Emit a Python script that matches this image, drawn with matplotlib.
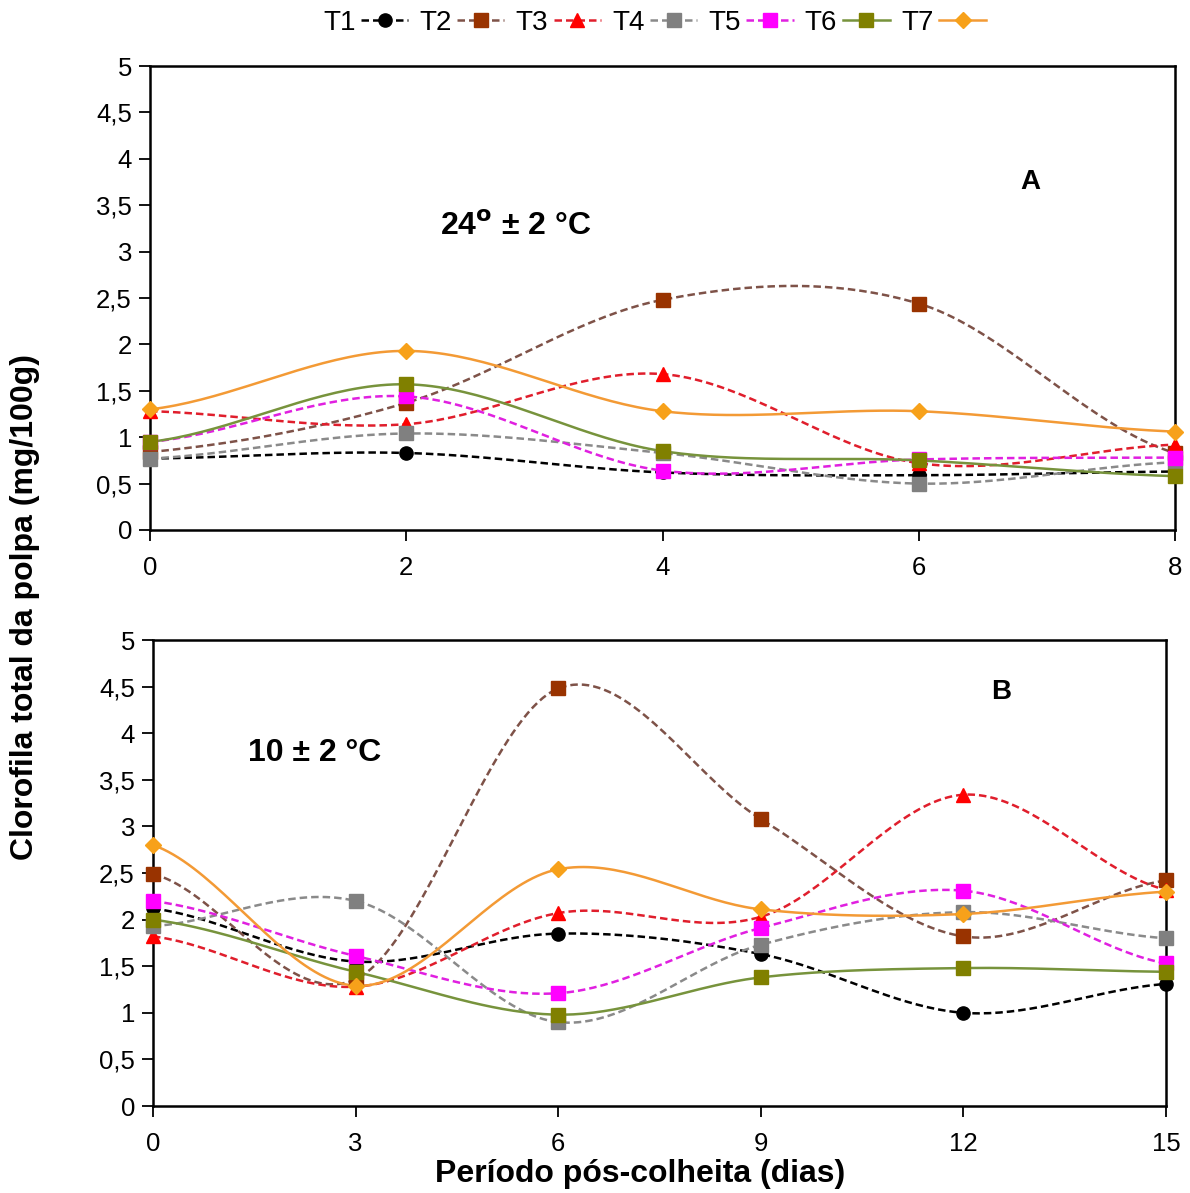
import numpy as np
import matplotlib
matplotlib.use("Agg")
import matplotlib.pyplot as plt
from matplotlib.lines import Line2D

plt.rcParams['font.family'] = ['Liberation Sans', 'DejaVu Sans']

# ---- data ----
treatments = ["T1", "T2", "T3", "T4", "T5", "T6", "T7"]

days_a = [0, 2, 4, 6, 8]
t1_a = [0.77, 0.83, 0.62, 0.59, 0.63]
t2_a = [0.84, 1.37, 2.48, 2.44, 0.83]
t3_a = [1.28, 1.14, 1.68, 0.72, 0.92]
t4_a = [0.77, 1.04, 0.83, 0.50, 0.73]
t5_a = [0.95, 1.44, 0.64, 0.76, 0.78]
t6_a = [0.95, 1.57, 0.85, 0.75, 0.58]
t7_a = [1.30, 1.93, 1.28, 1.28, 1.06]

days_b = [0, 3, 6, 9, 12, 15]
t1_b = [2.12, 1.55, 1.85, 1.63, 1.00, 1.31]
t2_b = [2.49, 1.36, 4.48, 3.08, 1.82, 2.42]
t3_b = [1.82, 1.28, 2.07, 2.03, 3.34, 2.32]
t4_b = [1.93, 2.20, 0.90, 1.73, 2.08, 1.80]
t5_b = [2.20, 1.61, 1.21, 1.91, 2.31, 1.53]
t6_b = [2.00, 1.44, 0.98, 1.38, 1.48, 1.44]
t7_b = [2.80, 1.29, 2.54, 2.11, 2.06, 2.30]

y_ticks = [0, 0.5, 1, 1.5, 2, 2.5, 3, 3.5, 4, 4.5, 5]
y_tick_labels = ["0", "0,5", "1", "1,5", "2", "2,5", "3", "3,5", "4", "4,5", "5"]

# ---- styles per treatment ----
styles = [
    dict(lc="#000000", mc="#000000", ls=(0, (3, 1.6)), m="o", ms=9.5),
    dict(lc="#7e5248", mc="#993300", ls=(0, (3, 1.6)), m="s", ms=9.5),
    dict(lc="#e01e2c", mc="#ff0000", ls=(0, (3, 1.6)), m="^", ms=10.5),
    dict(lc="#8a8a8a", mc="#808080", ls=(0, (3, 1.6)), m="s", ms=9.5),
    dict(lc="#e020e0", mc="#ff00ff", ls=(0, (3, 1.6)), m="s", ms=9.5),
    dict(lc="#77933c", mc="#808000", ls="-", m="s", ms=9.5),
    dict(lc="#f39a35", mc="#f7a11a", ls="-", m="D", ms=8),
]


def smooth(x, y, n=40):
    """Catmull-Rom style smoothing (like a spreadsheet 'smoothed line')."""
    x = np.asarray(x, float)
    y = np.asarray(y, float)
    k = len(x)
    m = np.zeros(k)
    for i in range(k):
        if i == 0:
            m[i] = (y[1] - y[0]) / 2
        elif i == k - 1:
            m[i] = (y[-1] - y[-2]) / 2
        else:
            m[i] = (y[i + 1] - y[i - 1]) / 2
    xs, ys = [], []
    for i in range(k - 1):
        t = np.linspace(0, 1, n, endpoint=(i == k - 2))
        h00 = 2 * t**3 - 3 * t**2 + 1
        h10 = t**3 - 2 * t**2 + t
        h01 = -2 * t**3 + 3 * t**2
        h11 = t**3 - t**2
        xs.append(x[i] + t * (x[i + 1] - x[i]))
        ys.append(h00 * y[i] + h10 * m[i] + h01 * y[i + 1] + h11 * m[i + 1])
    return np.concatenate(xs), np.concatenate(ys)


fig = plt.figure(figsize=(11.9, 11.93), dpi=100)
ax_a = fig.add_axes([150 / 1190, 1 - 530 / 1193, 1025 / 1190, 464 / 1193])
ax_b = fig.add_axes([153 / 1190, 1 - 1106 / 1193, 1013 / 1190, 466 / 1193])


def draw_panel(ax, days, series):
    for vals, st in zip(series, styles):
        sx, sy = smooth(days, vals)
        ax.plot(sx, sy, color=st["lc"], ls=st["ls"], lw=1.8, zorder=2)
        ax.plot(days, vals, ls="none", marker=st["m"], ms=st["ms"],
                color=st["mc"], markeredgecolor=st["mc"], zorder=3, clip_on=False)
    ax.set_ylim(0, 5)
    ax.set_xlim(days[0], days[-1])
    ax.set_xticks(days)
    ax.set_xticklabels([str(d) for d in days])
    ax.set_yticks(y_ticks)
    ax.set_yticklabels(y_tick_labels)
    ax.tick_params(axis="both", direction="out", length=8, width=1.3,
                   labelsize=18.5, pad=5)
    ax.tick_params(axis="x", pad=11)
    for sp in ax.spines.values():
        sp.set_linewidth(1.8)


draw_panel(ax_a, days_a, [t1_a, t2_a, t3_a, t4_a, t5_a, t6_a, t7_a])
draw_panel(ax_b, days_b, [t1_b, t2_b, t3_b, t4_b, t5_b, t6_b, t7_b])

ax_a.text(2.85, 3.27, r"24$^{\mathbf{o}}$ ± 2 °C", fontsize=23, fontweight="bold",
          ha="center", va="center")
ax_a.text(6.87, 3.75, "A", fontsize=20, fontweight="bold", ha="center", va="center")
ax_b.text(2.39, 3.79, "10 ± 2 °C", fontsize=23, fontweight="bold",
          ha="center", va="center")
ax_b.text(12.56, 4.44, "B", fontsize=20, fontweight="bold", ha="center", va="center")

fig.text(0.021, 0.491, "Clorofila total da polpa (mg/100g)", rotation=90,
         fontsize=23, fontweight="bold", ha="center", va="center")
fig.text(0.538, 0.016, "Período pós-colheita (dias)", fontsize=23,
         fontweight="bold", ha="center", va="center")

handles = [Line2D([], [], color=st["lc"], ls=st["ls"], lw=1.8, marker=st["m"],
                  ms=st["ms"], markerfacecolor=st["mc"], markeredgecolor=st["mc"])
           for st in styles]
fig.legend(handles, treatments, loc="center", bbox_to_anchor=(0.550, 0.981),
           ncol=7, frameon=False, markerfirst=False, fontsize=20,
           handlelength=1.7, handletextpad=0.2, columnspacing=0.4)

fig.savefig("out.png", dpi=100)
